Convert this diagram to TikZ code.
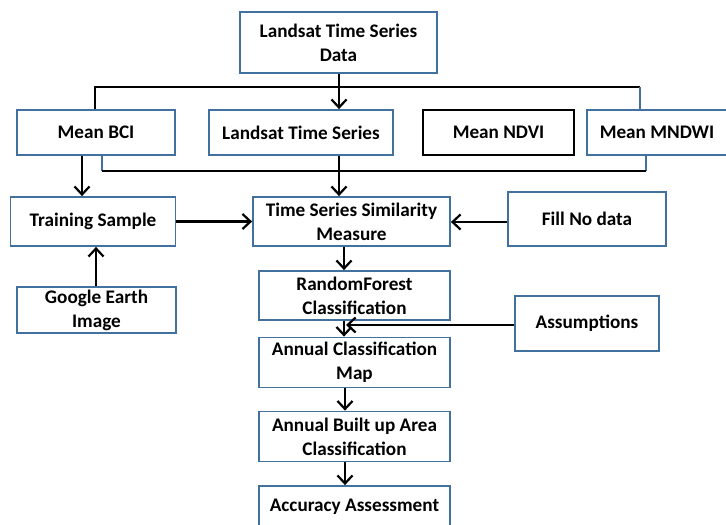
\documentclass[tikz,border=0pt]{standalone}
\usepackage{fontspec}
\setmainfont{Carlito}
\usetikzlibrary{arrows.meta}
\definecolor{boxblue}{RGB}{65,113,156}
\tikzset{
  box/.style={draw=boxblue, line width=1.8bp, rectangle, inner sep=0pt, align=center,
    font=\fontsize{19.2bp}{24bp}\selectfont\bfseries, text=black},
  conn/.style={draw=black, line width=2.4bp, -{Straight Barb[length=8bp,width=15bp,line width=2.2bp]}},
  thin/.style={draw=black, line width=1.3bp},
  thinblue/.style={draw=boxblue, line width=1.1bp}
}
\begin{document}
\begin{tikzpicture}[x=1bp,y=-1bp]
\useasboundingbox (0,0) rectangle (726,525);
\node[box, minimum width=197bp, minimum height=61bp] (data) at (338.5,42.5) {Landsat Time Series\\Data};
\node[box, minimum width=158bp, minimum height=45bp] (bci) at (96,132.5) {Mean BCI};
\node[box, minimum width=184bp, minimum height=45bp] (lts) at (301,132.5) {Landsat Time Series};
\node[box, draw=black, line width=2.2bp, minimum width=151bp, minimum height=45bp] (ndvi) at (498.5,132.5) {Mean NDVI};
\node[box, minimum width=140bp, minimum height=45bp] (mndwi) at (657,132.5) {Mean MNDWI};
\node[box, minimum width=165bp, minimum height=49bp] (train) at (93,221.5) {Training Sample};
\node[box, minimum width=197bp, minimum height=49bp] (tssm) at (351.5,221.5) {Time Series Similarity\\Measure};
\node[box, minimum width=158bp, minimum height=54bp] (fill) at (587,219) {Fill No data};
\node[box, minimum width=159bp, minimum height=46bp] (gei) at (96.5,310) {Google Earth\\Image};
\node[box, minimum width=191bp, minimum height=49bp] (rf) at (354.5,295.5) {RandomForest\\Classification};
\node[box, minimum width=144bp, minimum height=55bp] (ass) at (587,323.5) {Assumptions};
\node[box, minimum width=191bp, minimum height=50bp] (acm) at (354.5,362.5) {Annual Classification\\Map};
\node[box, minimum width=191bp, minimum height=50bp] (abac) at (354.5,436.5) {Annual Built up Area\\Classification};
\node[box, minimum width=191bp, minimum height=50bp] (aa) at (354.5,511) {};
\node[font=\fontsize{19.2bp}{24bp}\selectfont\bfseries] (aat) at (354.5,507) {Accuracy Assessment};
% top distribution lines
\coordinate (hl) at (95,87);
\coordinate (hr) at (640,87);
\draw[thin] (bci.north -| hl) -- (hl) -- (hr);
\draw[thinblue] (hr) -- (mndwi.north -| hr);
\draw[conn] (data.south -| 339,0) -- (lts.north -| 339,0);
% bottom collecting line
\coordinate (bl) at (102,171);
\coordinate (br) at (646,171);
\draw[thinblue] (bci.south -| bl) -- (bl);
\draw[thinblue] (br) -- (mndwi.south -| br);
\draw[thin] (bl) -- (br);
\draw[conn] (bci.south -| 82,0) -- (train.north -| 82,0);
\draw[conn] (lts.south -| 339,0) -- (tssm.north -| 339,0);
\draw[conn] (train.east) -- (tssm.west);
\draw[conn] (fill.west |- 0,222) -- (tssm.east |- 0,222);
\draw[conn] (gei.north -| 96,0) -- (train.south -| 96,0);
\draw[conn] (tssm.south -| 344,0) -- (rf.north -| 344,0);
\draw[conn] (rf.south -| 344,0) -- (acm.north -| 344,0);
\coordinate (assend) at (346,325);
\draw[conn] (ass.west |- assend) -- (assend);
\draw[conn] (acm.south -| 345,0) -- (abac.north -| 345,0);
\draw[conn] (abac.south -| 345,0) -- (aa.north -| 345,0);
\end{tikzpicture}
\end{document}
